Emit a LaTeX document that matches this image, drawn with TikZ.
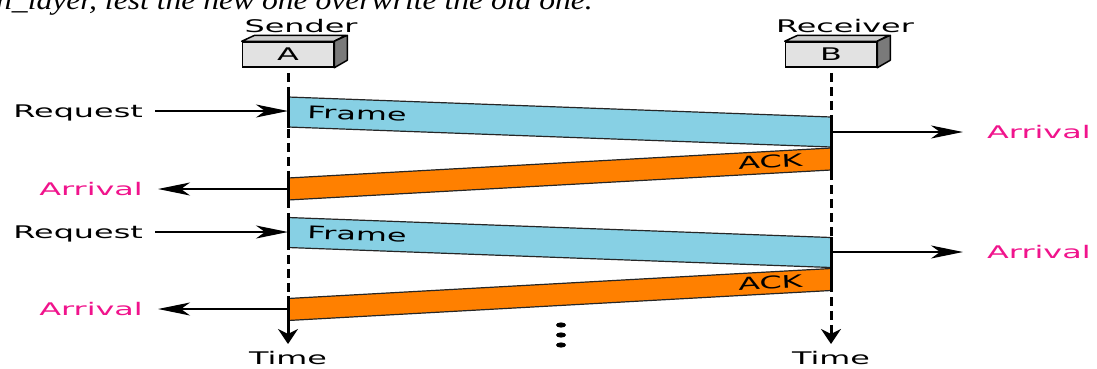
\documentclass[tikz,border=0pt]{standalone}
\usepackage{fontspec}
\setmainfont{DejaVu Sans}
\newfontfamily\diagfont[FakeStretch=1.83]{DejaVu Sans}
\newfontfamily\pagefont[FakeStretch=1.17]{Liberation Serif}
\usetikzlibrary{positioning}
\usetikzlibrary{calc}
\usetikzlibrary{arrows.meta}
\definecolor{framecol}{RGB}{135,208,228}
\definecolor{ackcol}{RGB}{255,128,0}
\definecolor{arrivalcol}{RGB}{240,20,140}
\definecolor{boxfront}{RGB}{226,226,226}
\definecolor{boxtop}{RGB}{205,205,205}
\definecolor{boxside}{RGB}{122,122,122}

\begin{document}
\begin{tikzpicture}[x=1pt, y=-1pt,
    lbl/.style={font=\diagfont\fontsize{17.4}{20}\selectfont, inner sep=0pt},
    arrival/.style={lbl, text=arrivalcol},
    station/.style={rectangle, draw=black, fill=boxfront, line width=1.5pt, minimum width=91pt, minimum height=25pt, inner sep=0pt, font=\diagfont\fontsize{17.4}{20}\selectfont},
    topface/.style={draw=black, fill=boxtop, line width=1.5pt, line join=round},
    sideface/.style={draw=black, fill=boxside, line width=1.5pt, line join=round},
    lifeline/.style={line width=3pt, dash pattern=on 9pt off 5pt},
    timetip/.style={-{Stealth[length=15pt, width=20pt, inset=5pt]}},
    solidseg/.style={line width=3pt},
    msg/.style={line width=1.6pt, -{Stealth[length=32pt, width=13pt, inset=9pt]}},
    framebox/.style={draw=black!85, fill=framecol, line width=1.2pt},
    ackbox/.style={draw=black!85, fill=ackcol, line width=1.2pt},
    ]
    \useasboundingbox (0,0) rectangle (1097,368);
    \clip (0,0) rectangle (1097,368);

    % text of the page above the figure
    \node[anchor=base west, inner sep=0pt, font=\pagefont\itshape\fontsize{27}{30}\selectfont] (pagetext) at (-4,9) {n\_layer, lest the new one overwrite the old one.};

    % stations
    \node[station] (boxA) at (288,54.5) {A};
    \node[station] (boxB) at (831,54.5) {B};
    \filldraw[topface] (boxA.north west) -- ++(13,-6) -- ++(91,0) -- (boxA.north east) -- cycle;
    \filldraw[sideface] (boxA.north east) -- ++(13,-6) -- ++(0,25) -- (boxA.south east) -- cycle;
    \filldraw[topface] (boxB.north west) -- ++(13,-6) -- ++(91,0) -- (boxB.north east) -- cycle;
    \filldraw[sideface] (boxB.north east) -- ++(13,-6) -- ++(0,25) -- (boxB.south east) -- cycle;
    \node[lbl] (sendlbl) [above=8pt of boxA, xshift=13pt] {Sender};
    \node[lbl] (recvlbl) [above=8pt of boxB, xshift=14pt] {Receiver};

    % time lines
    \node[lbl, anchor=north] (timeA) at (288,351) {Time};
    \node[lbl, anchor=north] (timeB) at (831,351) {Time};
    \draw[lifeline, timetip] ([yshift=-5pt]boxA.south) -- ([yshift=7pt]timeA.north);
    \draw[lifeline, timetip] ([yshift=-5pt]boxB.south) -- ([yshift=7pt]timeB.north);

    % first frame and ack
    \filldraw[framebox] (288,97) -- (831,117) -- (831,147) -- (288,127) -- cycle;
    \filldraw[ackbox] (831,148) -- (831,170) -- (288,200) -- (288,178) -- cycle;
    \draw[solidseg] (288,96) -- (288,128);
    \draw[solidseg] (288,176) -- (288,205);
    \draw[solidseg] (831,116) -- (831,171);
    \node[lbl, rotate=-2.1, anchor=base west] (frame1) at (307,118) {Frame};
    \node[lbl, rotate=3.2, anchor=base east] (ack1) at (803,166) {ACK};

    % second frame and ack
    \filldraw[framebox] (288,217.5) -- (831,237.5) -- (831,267.5) -- (288,247.5) -- cycle;
    \filldraw[ackbox] (831,268.5) -- (831,290.5) -- (288,320.5) -- (288,298.5) -- cycle;
    \draw[solidseg] (288,216) -- (288,249);
    \draw[solidseg] (288,296) -- (288,325);
    \draw[solidseg] (831,236.5) -- (831,291.5);
    \node[lbl, rotate=-2.1, anchor=base west] (frame2) at (307,238.5) {Frame};
    \node[lbl, rotate=3.2, anchor=base east] (ack2) at (803,287) {ACK};

    % requests and arrivals
    \coordinate (inA1) at (288,111);
    \coordinate (outB1) at (831,132);
    \coordinate (outA1) at (288,189);
    \coordinate (inA2) at (288,232);
    \coordinate (outB2) at (831,252);
    \coordinate (outA2) at (288,309);

    \node[lbl, anchor=base east, inner xsep=12pt] (req1) at (155,117.3) {Request};
    \node[lbl, anchor=base east, inner xsep=12pt] (req2) at (155,238.3) {Request};
    \node[arrival, anchor=base east, inner xsep=15pt] (arrA1) at (158,195.3) {Arrival};
    \node[arrival, anchor=base east, inner xsep=15pt] (arrA2) at (158,315.3) {Arrival};
    \node[arrival, anchor=base west, inner xsep=24pt] (arrB1) at (963,138.3) {Arrival};
    \node[arrival, anchor=base west, inner xsep=24pt] (arrB2) at (963,258.3) {Arrival};

    \draw[msg] (req1.east |- inA1) -- (inA1);
    \draw[msg] (req2.east |- inA2) -- (inA2);
    \draw[msg] (outA1) -- (arrA1.east |- outA1);
    \draw[msg] (outA2) -- (arrA2.east |- outA2);
    \draw[msg] (outB1) -- (arrB1.west |- outB1);
    \draw[msg] (outB2) -- (arrB2.west |- outB2);

    % more rounds follow
    \fill (561,325) ellipse (5 and 2.6);
    \fill (561,335) ellipse (5 and 2.6);
    \fill (561,345) ellipse (5 and 2.6);
\end{tikzpicture}
\end{document}
